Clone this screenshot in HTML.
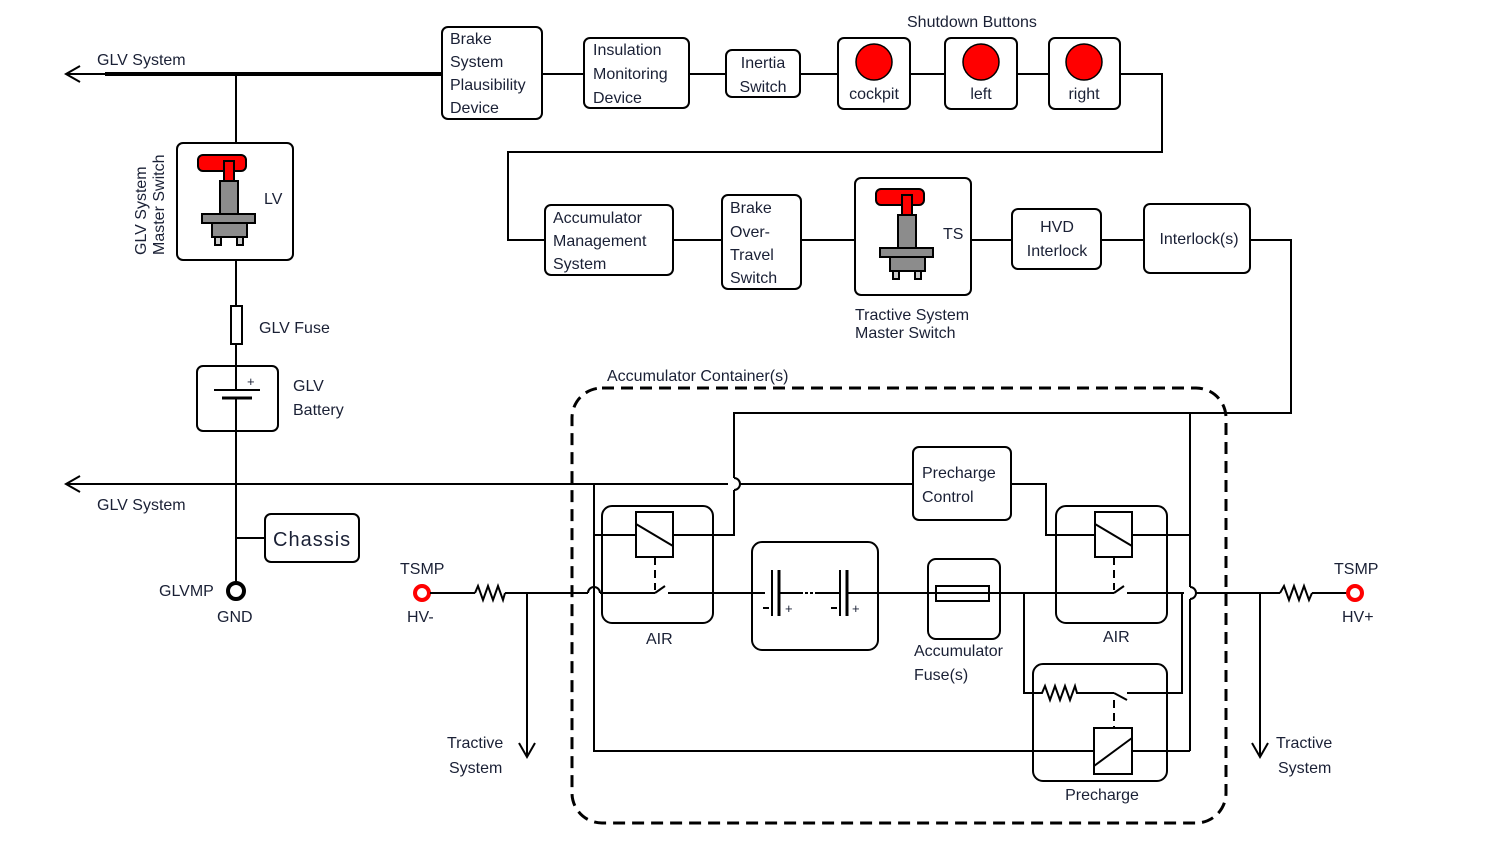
<!DOCTYPE html>
<html><head><meta charset="utf-8"><style>
html,body{margin:0;padding:0;background:#fff;}
svg{display:block;}
text{font-family:"Liberation Sans",sans-serif;font-size:16px;fill:#1a2035;}
</style></head><body>
<svg width="1489" height="843" viewBox="0 0 1489 843" xmlns="http://www.w3.org/2000/svg">
<g fill="none" stroke="#000" stroke-width="2">
<line x1="105" y1="74" x2="442" y2="74" stroke-width="4"/>
<line x1="66" y1="74" x2="105" y2="74"/>
<polyline points="80,66 66,74 80,82"/>
<line x1="542" y1="74" x2="584" y2="74"/>
<line x1="689" y1="74" x2="726" y2="74"/>
<line x1="800" y1="74" x2="838" y2="74"/>
<line x1="910" y1="74" x2="945" y2="74"/>
<line x1="1017" y1="74" x2="1049" y2="74"/>
<polyline points="1120,74 1162,74 1162,152 508,152 508,240 545,240"/>
<line x1="673" y1="240" x2="722" y2="240"/>
<line x1="801" y1="240" x2="855" y2="240"/>
<line x1="971" y1="240" x2="1012" y2="240"/>
<line x1="1101" y1="240" x2="1144" y2="240"/>
<polyline points="1250,240 1291,240 1291,413 734,413 734,478"/>
<path d="M734,478 a6,6 0 0 1 0,12"/>
<polyline points="734,490 734,535 673,535"/>
<rect x="442" y="27" width="100" height="92" rx="6"/>
<rect x="584" y="38" width="105" height="70" rx="6"/>
<rect x="726" y="50" width="74" height="47" rx="6"/>
<rect x="838" y="38" width="72" height="71" rx="6"/>
<rect x="945" y="38" width="72" height="71" rx="6"/>
<rect x="1049" y="38" width="71" height="71" rx="6"/>
<rect x="545" y="205" width="128" height="70" rx="6"/>
<rect x="722" y="195" width="79" height="94" rx="6"/>
<rect x="855" y="178" width="116" height="117" rx="6"/>
<rect x="1012" y="209" width="89" height="60" rx="6"/>
<rect x="1144" y="204" width="106" height="69" rx="6"/>
<line x1="236" y1="74" x2="236" y2="143"/>
<rect x="177" y="143" width="116" height="117" rx="6"/>
<line x1="236" y1="260" x2="236" y2="306"/>
<rect x="231" y="306" width="11" height="38"/>
<line x1="236" y1="344" x2="236" y2="366"/>
<rect x="197" y="366" width="81" height="65" rx="6"/>
<line x1="236" y1="366" x2="236" y2="390"/>
<line x1="214" y1="390" x2="260" y2="390" stroke-width="2"/>
<line x1="222" y1="398" x2="252" y2="398" stroke-width="3"/>
<line x1="236" y1="398" x2="236" y2="582"/>
<line x1="236" y1="538" x2="265" y2="538"/>
<rect x="265" y="514" width="94" height="48" rx="6"/>
<circle cx="236" cy="591" r="8" stroke-width="4"/>
<line x1="66" y1="484" x2="728" y2="484"/>
<polyline points="80,476 66,484 80,492"/>
<line x1="740" y1="484" x2="913" y2="484"/>
<rect x="913" y="447" width="98" height="73" rx="6"/>
<polyline points="1011,484 1046,484 1046,535 1095,535"/>
<line x1="1132" y1="535" x2="1190" y2="535"/>
<polyline points="594,484 594,751 1094,751"/>
<line x1="1132" y1="751" x2="1190" y2="751"/>
<polyline points="1190,413 1190,587"/>
<path d="M1190,587 a6,6 0 0 1 0,12"/>
<line x1="1190" y1="599" x2="1190" y2="751"/>
<line x1="594" y1="535" x2="636" y2="535"/>
<rect x="572" y="388" width="654" height="435" rx="30" stroke-width="3" stroke-dasharray="12,7"/>
<circle cx="422" cy="593" r="7" stroke="#f00" stroke-width="4"/>
<line x1="430" y1="593" x2="475" y2="593"/>
<polyline points="475,593 478,586 483,600 488,586 493,600 498,586 503,600 505,593"/>
<line x1="505" y1="593" x2="588" y2="593"/>
<path d="M588,593 a6,6 0 0 1 12,0"/>
<line x1="600" y1="593" x2="655" y2="593"/>
<line x1="655" y1="593" x2="665" y2="586"/>
<line x1="668" y1="593" x2="765" y2="593"/>
<line x1="527" y1="593" x2="527" y2="757"/>
<polyline points="519,743 527,757 535,743"/>
<rect x="602" y="506" width="111" height="117" rx="10"/>
<rect x="636" y="512" width="37" height="45"/>
<line x1="636" y1="524" x2="673" y2="546"/>
<line x1="655" y1="557" x2="655" y2="590" stroke-dasharray="8,5"/>
<rect x="752" y="542" width="126" height="108" rx="10"/>
<line x1="772" y1="570" x2="772" y2="616" stroke-width="2"/>
<line x1="779" y1="570" x2="779" y2="616" stroke-width="3"/>
<line x1="779" y1="593" x2="800" y2="593"/>
<line x1="800" y1="593" x2="818" y2="593" stroke-dasharray="3,2"/>
<line x1="818" y1="593" x2="840" y2="593"/>
<line x1="840" y1="570" x2="840" y2="616" stroke-width="2"/>
<line x1="847" y1="570" x2="847" y2="616" stroke-width="3"/>
<line x1="847" y1="593" x2="1024" y2="593"/>
<line x1="763" y1="608" x2="769" y2="608"/>
<line x1="831" y1="608" x2="837" y2="608"/>
<rect x="928" y="559" width="72" height="80" rx="8"/>
<rect x="936" y="586" width="53" height="15"/>
<line x1="1024" y1="593" x2="1114" y2="593"/>
<line x1="1114" y1="593" x2="1124" y2="586"/>
<line x1="1127" y1="593" x2="1184" y2="593"/>
<line x1="1196" y1="593" x2="1280" y2="593"/>
<rect x="1056" y="506" width="111" height="117" rx="10"/>
<rect x="1095" y="512" width="37" height="45"/>
<line x1="1095" y1="524" x2="1132" y2="546"/>
<line x1="1114" y1="557" x2="1114" y2="590" stroke-dasharray="8,5"/>
<rect x="1033" y="664" width="134" height="117" rx="10"/>
<polyline points="1024,593 1024,693 1042,693 1045,686 1050,700 1055,686 1060,700 1065,686 1070,700 1075,686 1077,693 1114,693"/>
<line x1="1114" y1="693" x2="1127" y2="700"/>
<polyline points="1127,693 1182,693 1182,593"/>
<line x1="1114" y1="700" x2="1114" y2="728" stroke-dasharray="8,5"/>
<rect x="1094" y="728" width="38" height="46"/>
<line x1="1094" y1="766" x2="1132" y2="738"/>
<polyline points="1280,593 1284,586 1289,600 1294,586 1299,600 1304,586 1309,600 1312,593"/>
<line x1="1312" y1="593" x2="1348" y2="593"/>
<circle cx="1355" cy="593" r="7" stroke="#f00" stroke-width="4"/>
<line x1="1260" y1="593" x2="1260" y2="757"/>
<polyline points="1252,743 1260,757 1268,743"/>
</g>
<g fill="#f00" stroke="#000" stroke-width="1.5">
<circle cx="874" cy="62" r="18"/>
<circle cx="981" cy="62" r="18"/>
<circle cx="1084" cy="62" r="18"/>
</g>
<g stroke="#000" stroke-width="2">
<g>
<rect x="198" y="155" width="48" height="16" rx="5" fill="#f00"/>
<rect x="224" y="161" width="10" height="21" fill="#f00"/>
<rect x="220" y="181" width="18" height="33" fill="#8c8c8c"/>
<rect x="202" y="214" width="53" height="9" fill="#8c8c8c"/>
<rect x="212" y="223" width="35" height="14" fill="#8c8c8c"/>
<rect x="215" y="237" width="6" height="8" fill="#ccc"/>
<rect x="237" y="237" width="6" height="8" fill="#ccc"/>
</g>
<g transform="translate(678,34)">
<rect x="198" y="155" width="48" height="16" rx="5" fill="#f00"/>
<rect x="224" y="161" width="10" height="21" fill="#f00"/>
<rect x="220" y="181" width="18" height="33" fill="#8c8c8c"/>
<rect x="202" y="214" width="53" height="9" fill="#8c8c8c"/>
<rect x="212" y="223" width="35" height="14" fill="#8c8c8c"/>
<rect x="215" y="237" width="6" height="8" fill="#ccc"/>
<rect x="237" y="237" width="6" height="8" fill="#ccc"/>
</g>
</g>
<text x="97" y="65">GLV System</text>
<text x="450" y="44">Brake</text>
<text x="450" y="67">System</text>
<text x="450" y="90">Plausibility</text>
<text x="450" y="113">Device</text>
<text x="593" y="55">Insulation</text>
<text x="593" y="79">Monitoring</text>
<text x="593" y="103">Device</text>
<text x="763" y="68" text-anchor="middle">Inertia</text>
<text x="763" y="92" text-anchor="middle">Switch</text>
<text x="907" y="27">Shutdown Buttons</text>
<text x="874" y="99" text-anchor="middle">cockpit</text>
<text x="981" y="99" text-anchor="middle">left</text>
<text x="1084" y="99" text-anchor="middle">right</text>
<text x="553" y="223">Accumulator</text>
<text x="553" y="246">Management</text>
<text x="553" y="269">System</text>
<text x="730" y="213">Brake</text>
<text x="730" y="237">Over-</text>
<text x="730" y="260">Travel</text>
<text x="730" y="283">Switch</text>
<text x="943" y="239">TS</text>
<text x="855" y="320">Tractive System</text>
<text x="855" y="338">Master Switch</text>
<text x="1057" y="232" text-anchor="middle">HVD</text>
<text x="1057" y="256" text-anchor="middle">Interlock</text>
<text x="1199" y="244" text-anchor="middle">Interlock(s)</text>
<text x="264" y="204">LV</text>
<text transform="translate(146,255) rotate(-90)">GLV System</text>
<text transform="translate(164,255) rotate(-90)">Master Switch</text>
<text x="259" y="333">GLV Fuse</text>
<text x="293" y="391">GLV</text>
<text x="293" y="415">Battery</text>
<text x="247" y="386" style="font-size:13px">+</text>
<text x="97" y="510">GLV System</text>
<text x="273" y="546" style="font-size:20px;letter-spacing:1px">Chassis</text>
<text x="159" y="596">GLVMP</text>
<text x="217" y="622">GND</text>
<text x="400" y="574">TSMP</text>
<text x="407" y="622">HV-</text>
<text x="447" y="748">Tractive</text>
<text x="449" y="773">System</text>
<text x="607" y="381">Accumulator Container(s)</text>
<text x="646" y="644">AIR</text>
<text x="785" y="613" style="font-size:13px">+</text>
<text x="852" y="613" style="font-size:13px">+</text>
<text x="922" y="478">Precharge</text>
<text x="922" y="502">Control</text>
<text x="914" y="656">Accumulator</text>
<text x="914" y="680">Fuse(s)</text>
<text x="1103" y="642">AIR</text>
<text x="1102" y="800" text-anchor="middle">Precharge</text>
<text x="1334" y="574">TSMP</text>
<text x="1342" y="622">HV+</text>
<text x="1276" y="748">Tractive</text>
<text x="1278" y="773">System</text>
</svg>
</body></html>
